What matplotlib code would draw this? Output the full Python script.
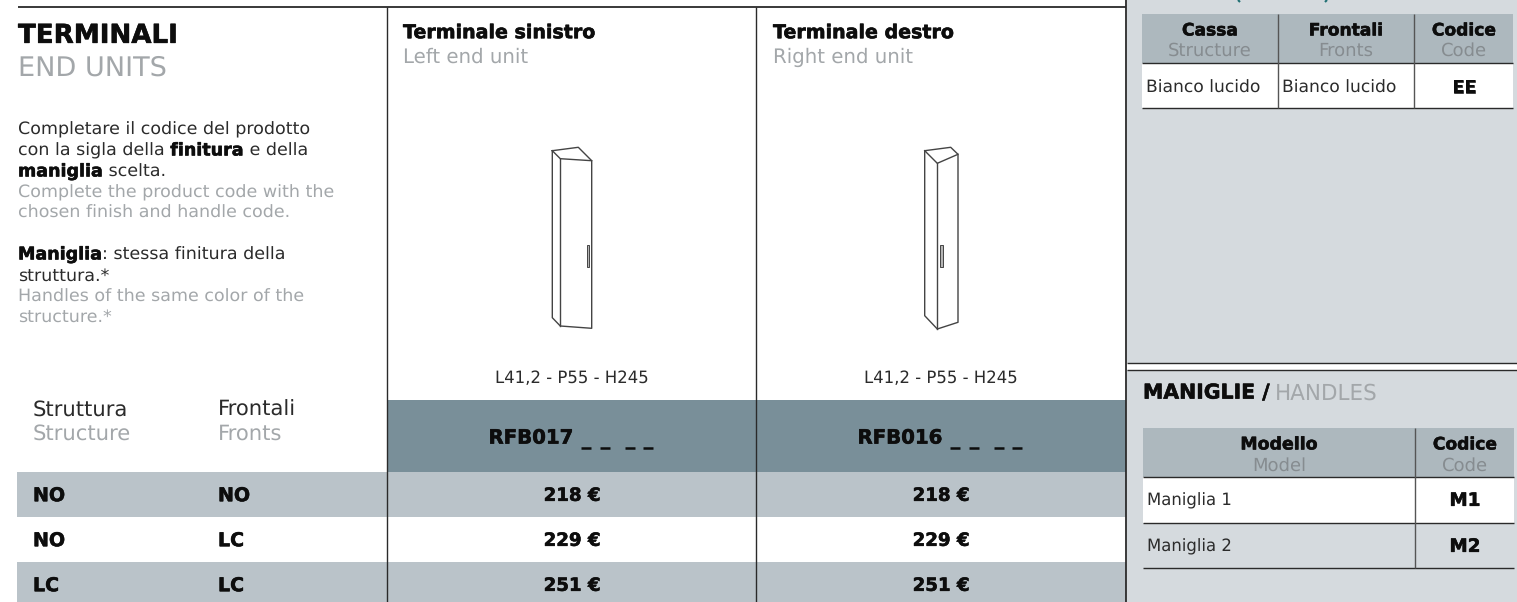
"""
Terminali / End units price sheet, drawn on one pixel-scaled axes.
"""

import matplotlib
matplotlib.use("Agg")
import matplotlib.pyplot as plt
import matplotlib.patheffects as pe
from matplotlib.patches import Rectangle

plt.rcParams["text.hinting"] = "none"

# ── Data ─────────────────────────────────────────────────────────────────────
TITLE = "TERMINALI"
SUBTITLE = "END UNITS"
UNIT_NAMES = ["Terminale sinistro", "Terminale destro"]
UNIT_NAMES_EN = ["Left end unit", "Right end unit"]
UNIT_SIZES = ["L41,2 - P55 - H245", "L41,2 - P55 - H245"]
UNIT_CODES = ["RFB017", "RFB016"]
STRUCTURE = ["NO", "NO", "LC"]
FRONTS = ["NO", "LC", "LC"]
PRICES = ["218 €", "229 €", "251 €"]

FINISH_HEAD = ["Cassa", "Frontali", "Codice"]
FINISH_HEAD_EN = ["Structure", "Fronts", "Code"]
FINISH_ROW = ["Bianco lucido", "Bianco lucido", "EE"]

HANDLE_HEAD = ["Modello", "Codice"]
HANDLE_HEAD_EN = ["Model", "Code"]
HANDLE_MODELS = ["Maniglia 1", "Maniglia 2"]
HANDLE_CODES = ["M1", "M2"]

# ── Styles ───────────────────────────────────────────────────────────────────
W, H = 1517, 602
FONT = "DejaVu Sans"
INK = "#0d0d0d"
SOFT = "#2b2b2b"
GREY = "#a3a7aa"
HEAD_GREY = "#868c90"
PANEL = "#d5dade"
BAND = "#bac3c9"
CODE_BG = "#798f99"
HEAD_BG = "#adb8be"
LINE = "#2a2a2a"

fig = plt.figure(figsize=(W / 100, H / 100), dpi=100)
ax = fig.add_axes([0, 0, 1, 1])
ax.set_xlim(0, W)
ax.set_ylim(H, 0)
ax.axis("off")


def rect(x0, y0, x1, y1, color, z=1):
    ax.add_patch(Rectangle((x0, y0), x1 - x0, y1 - y0, facecolor=color, edgecolor="none", zorder=z))


def line(x0, y0, x1, y1, lw=1.0, color=LINE, z=3):
    ax.plot([x0, x1], [y0, y1], color=color, lw=lw, solid_capstyle="butt", zorder=z)


def text(x, y, s, size=12, bold=False, color=None, ha="left"):
    if color is None:
        color = INK if bold else SOFT
    t = ax.text(x, y - 2, s, fontsize=size, color=color, ha=ha, va="center_baseline", family=FONT,
                fontweight="bold" if bold else "normal", zorder=5)
    if bold:
        # the original face is heavier than DejaVu Bold
        t.set_path_effects([pe.Stroke(linewidth=0.4, foreground=color), pe.Normal()])
    return t


def runs(x, y, parts, size):
    """Draw (string, bold) pieces one after another on the same line."""
    rend = fig.canvas.get_renderer()
    for s, bold in parts:
        t = text(x, y, s, size, bold)
        x += t.get_window_extent(rend).width


# ── Backgrounds ──────────────────────────────────────────────────────────────
rect(1127, 0, W, H, PANEL)
rect(1127, 363, W, 370, "white", z=2)
rect(388, 400, 1126, 472, CODE_BG)
for y0, y1 in [(472, 517), (562, H)]:
    rect(17, y0, 1126, y1, BAND)

# ── Rules ────────────────────────────────────────────────────────────────────
line(18, 6.5, 1126, 6.5, 1.3)
for x in [387.5, 756.5]:
    line(x, 7, x, H, 1.0)
line(1126.5, 0, 1126.5, H, 1.3)
line(1127, 362.5, W, 362.5, 1.0)
line(1127, 370, W, 370, 1.0)

# feet of the brackets from the heading cropped off above
line(1238, 0, 1240, 2, 1.5, "#1f6f73")
line(1327, 0, 1325, 2, 1.5, "#1f6f73")

# ── Left column ──────────────────────────────────────────────────────────────
text(18, 35, TITLE, 18.8, True)
text(18, 67, SUBTITLE, 19.5, False, GREY)

BODY = 12.6
runs(18, 130, [("Completare il codice del prodotto", False)], BODY)
runs(18, 151, [("con la sigla della ", False), ("finitura", True), (" e della", False)], BODY)
runs(18, 172, [("maniglia", True), (" scelta.", False)], BODY)
text(18, 193, "Complete the product code with the", BODY, False, GREY)
text(18, 213, "chosen finish and handle code.", BODY, False, GREY)
runs(18, 255, [("Maniglia", True), (": stessa finitura della", False)], BODY)
text(18, 276, "struttura.*", BODY)
text(18, 297, "Handles of the same color of the", BODY, False, GREY)
text(18, 317, "structure.*", BODY, False, GREY)

text(33, 410, "Struttura", 15.2)
text(33, 434, "Structure", 15.2, False, GREY)
text(218, 410, "Frontali", 15.2)
text(218, 434, "Fronts", 15.2, False, GREY)

ROW_Y = [496, 541, 586]
for y, s, f in zip(ROW_Y, STRUCTURE, FRONTS):
    text(33, y, s, 13.7, True)
    text(218, y, f, 13.7, True)

# ── Product columns ──────────────────────────────────────────────────────────
COL_X = [403, 773]
COL_MID = [572, 941]
for i in range(2):
    text(COL_X[i], 33, UNIT_NAMES[i], 13.7, True)
    text(COL_X[i], 57, UNIT_NAMES_EN[i], 14.2, False, GREY)
    text(COL_MID[i], 379, UNIT_SIZES[i], 11.9, ha="center")
    text(COL_MID[i] - 41, 438, UNIT_CODES[i], 14.2, True, ha="center")
    for dx0 in [9, 28, 53, 71]:
        line(COL_MID[i] + dx0, 447.5, COL_MID[i] + dx0 + 10, 447.5, 1.8, INK)
    for y, p in zip(ROW_Y, PRICES):
        text(COL_MID[i], y, p, 13.1, True, ha="center")

# ── Cabinet drawings (line art) ──────────────────────────────────────────────
left_cab = [
    [(552.3, 150.7), (578.3, 147.3), (591.7, 160.7)],
    [(552.3, 150.7), (560.3, 158.7), (591.7, 160.7), (591.7, 328.3), (560.3, 326), (552.3, 317.7), (552.3, 150.7)],
    [(560.3, 158.7), (560.3, 326)],
]
right_cab = [
    [(924.7, 150.7), (950.7, 147.3), (958, 154.3), (937.3, 163.3), (924.7, 150.7)],
    [(924.7, 150.7), (924.7, 315.7), (937.3, 329), (958, 322.3), (958, 154.3)],
    [(937.3, 163.3), (937.3, 329)],
]
for shape in left_cab + right_cab:
    ax.plot([p[0] for p in shape], [p[1] for p in shape], color="#444444", lw=1.0, zorder=3)
ax.add_patch(Rectangle((586.7, 245), 2.6, 22, facecolor="#b5b5b5", edgecolor="#444444", lw=0.7, zorder=4))
ax.add_patch(Rectangle((940, 245), 3.0, 22, facecolor="#b5b5b5", edgecolor="#444444", lw=0.7, zorder=4))

# ── Finish table ─────────────────────────────────────────────────────────────
rect(1142, 14, 1513, 63, HEAD_BG, z=2)
rect(1142, 63, 1513, 108, "white", z=2)
line(1142, 62.5, 1513, 62.5, 1.0)
line(1142, 108, 1513, 108, 1.0)
for x in [1278.5, 1414.5]:
    line(x, 14, x, 108, 1.0, "#555555")
HEAD_X = [1210, 1346, 1464]
for x, a, b in zip(HEAD_X, FINISH_HEAD, FINISH_HEAD_EN):
    text(x, 31, a, 12.3, True, ha="center")
    text(x, 51, b, 13, False, HEAD_GREY, ha="center")
text(1146, 88, FINISH_ROW[0], 12.3)
text(1282, 88, FINISH_ROW[1], 12.3)
text(1464, 88, FINISH_ROW[2], 12.7, True, ha="center")

# ── Handles table ────────────────────────────────────────────────────────────
text(1143, 393, "MANIGLIE /", 14.7, True)
text(1275, 393, "HANDLES", 15.5, False, GREY)
rect(1143, 428, 1514, 477, HEAD_BG, z=2)
rect(1143, 477, 1514, 523, "white", z=2)
line(1143, 477, 1514, 477, 1.0)
line(1143, 522.5, 1514, 522.5, 1.0)
line(1143, 568, 1514, 568, 1.0)
line(1415.5, 428, 1415.5, 568, 1.0, "#555555")
text(1279, 445, HANDLE_HEAD[0], 12.5, True, ha="center")
text(1279, 466, HANDLE_HEAD_EN[0], 13, False, HEAD_GREY, ha="center")
text(1465, 445, HANDLE_HEAD[1], 12.3, True, ha="center")
text(1465, 466, HANDLE_HEAD_EN[1], 13, False, HEAD_GREY, ha="center")
for y, m, c in zip([501, 547], HANDLE_MODELS, HANDLE_CODES):
    text(1147, y, m, 11.9)
    text(1465, y, c, 13.2, True, ha="center")

fig.savefig("out.png", dpi=100)
